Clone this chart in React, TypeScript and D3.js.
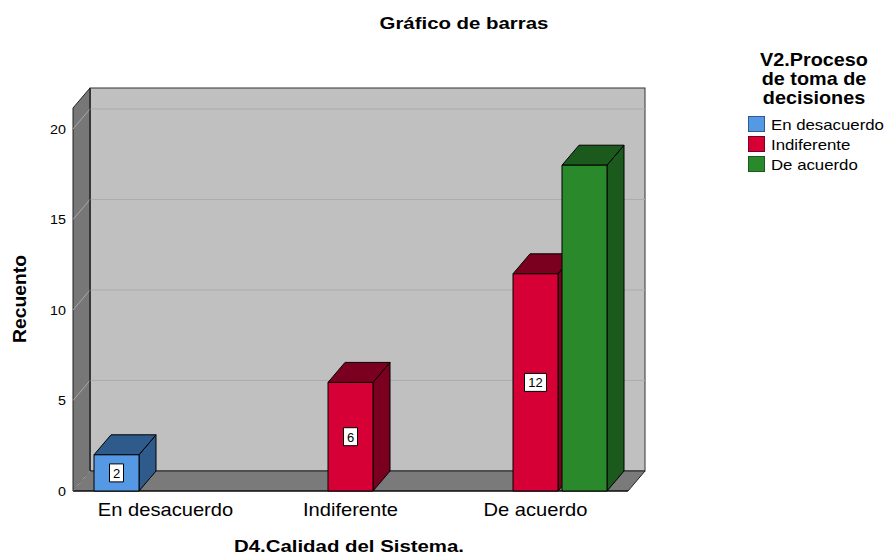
import * as d3 from "d3";
import React from "react";

const categories = ["En desacuerdo", "Indiferente", "De acuerdo"];
const series = ["En desacuerdo", "Indiferente", "De acuerdo"];
// counts[category][series]
const counts = [
  [2, 0, 0],
  [0, 6, 0],
  [0, 12, 18],
];
// which bars carry a value label (the tallest one has none in the original)
const showLabel = [
  [true, false, false],
  [false, true, false],
  [false, true, false],
];
const yTicks = [0, 5, 10, 15, 20];
const yMax = 21.16;
const legendTitle = ["V2.Proceso", "de toma de", "decisiones"];

const frontColors = ["#5599e5", "#d70036", "#2a8a2b"];
const darkColors = ["#2e5a8c", "#7b001f", "#1b5a1c"];

const W = 887;
const H = 558;
const left = 73;
const right = 628;
const bottom = 491;
const dx = 17;
const dy = -20;
const font = "'Liberation Sans', Arial, sans-serif";

const y = d3.scaleLinear().domain([0, yMax]).range([bottom, bottom - 383]);
const x = d3.scaleBand<string>().domain(categories).range([left, right]).padding(0);
const inner = d3
  .scaleBand<string>()
  .domain(series)
  .range([21, x.bandwidth() - 21])
  .paddingInner(4 / 49)
  .paddingOuter(0);

const pts = (p: [number, number][]) => p.map((d) => d.join(",")).join(" ");

// stretched text, the original renders glyphs a bit wide
const T = ({ x: tx, y: ty, size, bold, anchor = "middle", sx = 1.2, children }: any) => (
  <text
    transform={`translate(${tx},${ty}) scale(${sx},1)`}
    textAnchor={anchor}
    fontFamily={font}
    fontSize={size}
    fontWeight={bold ? "bold" : "normal"}
    fill="#000"
  >
    {children}
  </text>
);

const Bar = ({ ci, si }: { ci: number; si: number }) => {
  const v = counts[ci][si];
  if (!v) return null;
  const x0 = (x(categories[ci]) || 0) + (inner(series[si]) || 0);
  const x1 = x0 + inner.bandwidth();
  const yt = y(v);
  const label = String(v);
  const bw = label.length > 1 ? 22 : 14;
  const ym = (yt + bottom) / 2;
  return (
    <g stroke="#000" strokeWidth={1} strokeLinejoin="round">
      <polygon
        points={pts([[x1, yt], [x1 + dx, yt + dy], [x1 + dx, bottom + dy], [x1, bottom]])}
        fill={darkColors[si]}
      />
      <polygon
        points={pts([[x0, yt], [x0 + dx, yt + dy], [x1 + dx, yt + dy], [x1, yt]])}
        fill={darkColors[si]}
      />
      <rect x={x0} y={yt} width={x1 - x0} height={bottom - yt} fill={frontColors[si]} />
      {showLabel[ci][si] && (
        <g>
          <rect x={(x0 + x1) / 2 - bw / 2} y={ym - 9} width={bw} height={18} fill="#fff" stroke="#000" />
          <text
            x={(x0 + x1) / 2}
            y={ym + 5}
            textAnchor="middle"
            fontFamily={font}
            fontSize={13}
            stroke="none"
            fill="#000"
          >
            {label}
          </text>
        </g>
      )}
    </g>
  );
};

export default function App() {
  const backTop = y(yMax) + dy;
  return (
    <svg width={W} height={H} style={{ position: "absolute", left: 0, top: 0, background: "#fff" }}>
      <rect width={W} height={H} fill="#fff" />
      <T x={464} y={29} size={17} bold>
        Gráfico de barras
      </T>

      {/* back wall */}
      <rect
        x={left + dx}
        y={backTop}
        width={right - left}
        height={bottom - y(yMax)}
        fill="#c0c0c0"
        stroke="#333"
      />
      {/* left wall */}
      <polygon
        points={pts([[left, y(yMax)], [left + dx, backTop], [left + dx, bottom + dy], [left, bottom]])}
        fill="#777"
        stroke="#222"
      />
      {/* floor */}
      <polygon
        points={pts([[left, bottom], [left + dx, bottom + dy], [right + dx, bottom + dy], [right, bottom]])}
        fill="#7a7a7a"
        stroke="#222"
      />
      {/* grid */}
      {yTicks.slice(1).map((t) => (
        <g key={t}>
          <line x1={left + dx} x2={right + dx} y1={y(t) + dy} y2={y(t) + dy} stroke="#acacac" />
          <line x1={left} x2={left + dx} y1={y(t)} y2={y(t) + dy} stroke="#a8a8a8" />
        </g>
      ))}
      <line x1={left} x2={left + dx} y1={bottom} y2={bottom + dy} stroke="#a8a8a8" />
      <line x1={left + dx} x2={left + dx} y1={backTop} y2={bottom + dy} stroke="#222" />
      <line x1={left} x2={right} y1={bottom} y2={bottom} stroke="#000" />

      {categories.map((c, ci) => series.map((s, si) => <Bar key={c + s} ci={ci} si={si} />))}

      {/* y axis */}
      {yTicks.map((t) => (
        <T key={t} x={66} y={y(t) + 5} size={13} anchor="end" sx={1.1}>
          {t}
        </T>
      ))}
      <text
        transform="translate(26,299) rotate(-90)"
        textAnchor="middle"
        fontFamily={font}
        fontSize={18}
        fontWeight="bold"
        textLength={88}
        lengthAdjust="spacingAndGlyphs"
      >
        Recuento
      </text>

      {/* x axis */}
      {categories.map((c) => (
        <T key={c} x={(x(c) || 0) + x.bandwidth() / 2} y={516} size={17.5} sx={1.15}>
          {c}
        </T>
      ))}
      <T x={349} y={552} size={17} bold>
        D4.Calidad del Sistema.
      </T>

      {/* legend */}
      {legendTitle.map((l, i) => (
        <T key={l} x={814} y={66 + i * 19} size={18} bold sx={1.1}>
          {l}
        </T>
      ))}
      {series.map((s, i) => (
        <g key={s}>
          <rect x={748.5} y={116.5 + i * 20} width={16} height={15} fill={frontColors[i]} stroke={darkColors[i]} />
          <T x={771} y={130 + i * 20} size={14} anchor="start" sx={1.2}>
            {s}
          </T>
        </g>
      ))}
    </svg>
  );
}
